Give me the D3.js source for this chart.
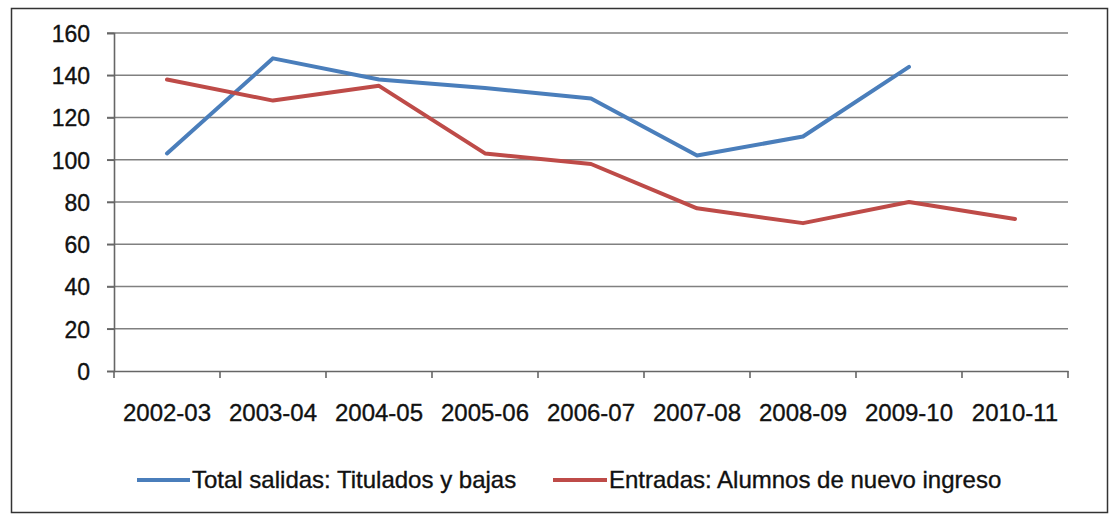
<!DOCTYPE html>
<html>
<head>
<meta charset="utf-8">
<script src="https://cdn.jsdelivr.net/npm/d3@7"></script>
<style>
  html, body { margin: 0; padding: 0; background: #fff; }
  svg text { font-family: "Liberation Sans", Arial, sans-serif; fill: #111; stroke: #111; stroke-width: 0.35px; }
</style>
</head>
<body>
<svg id="chart" width="1112" height="515"></svg>
<script>
const categories = ["2002-03","2003-04","2004-05","2005-06","2006-07","2007-08","2008-09","2009-10","2010-11"];
const salidas  = [103, 148, 138, 134, 129, 102, 111, 144, null];
const entradas = [138, 128, 135, 103, 98, 77, 70, 80, 72];
const yTicks = [0, 20, 40, 60, 80, 100, 120, 140, 160];
const seriesNames = ["Total salidas: Titulados y bajas", "Entradas: Alumnos de nuevo ingreso"];
const seriesColors = ["#4a7ebb", "#be4b48"];

const svg = d3.select("#chart");
const plotLeft = 114, plotRight = 1068, plotTop = 33, plotBottom = 371;

// outer frame
svg.append("rect").attr("x", 11.5).attr("y", 8.5).attr("width", 1096).attr("height", 504)
  .attr("fill", "#fff").attr("stroke", "#333").attr("stroke-width", 1.5);

const x = d3.scaleBand().domain(categories).range([plotLeft, plotRight]).paddingInner(0).paddingOuter(0);
const y = d3.scaleLinear().domain([0, 160]).range([plotBottom, plotTop]);

// gridlines (with outward tick)
svg.append("g").selectAll("line").data(yTicks.filter(d => d > 0)).join("line")
  .attr("x1", plotLeft - 7).attr("x2", plotRight)
  .attr("y1", d => y(d)).attr("y2", d => y(d))
  .attr("stroke", "#808080").attr("stroke-width", 1.6);

// y axis
const yAxis = svg.append("g").attr("transform", `translate(${plotLeft},0)`)
  .call(d3.axisLeft(y).tickValues(yTicks).tickSize(7).tickPadding(17));
yAxis.select(".domain").attr("stroke", "#666").attr("stroke-width", 1.6);
yAxis.selectAll(".tick line").attr("stroke", "#666").attr("stroke-width", 1.6);
yAxis.selectAll("text").attr("font-size", 23).attr("dy", "0.36em");

// x axis
const xAxis = svg.append("g").attr("transform", `translate(0,${plotBottom})`)
  .call(d3.axisBottom(x).tickSize(0).tickPadding(36));
xAxis.select(".domain").attr("stroke", "#666").attr("stroke-width", 1.6);
xAxis.selectAll("text").attr("font-size", 24).attr("dy", "0.6em");
// band-edge ticks
const edges = categories.map(c => x(c)).concat([x(categories[categories.length-1]) + x.bandwidth()]);
xAxis.append("g").selectAll("line").data(edges).join("line")
  .attr("x1", d => d).attr("x2", d => d).attr("y1", 0).attr("y2", 7)
  .attr("stroke", "#666").attr("stroke-width", 1.6);

// lines
const line = d3.line()
  .defined(d => d.v != null)
  .x(d => x(d.c) + x.bandwidth() / 2)
  .y(d => y(d.v));

[salidas, entradas].forEach((vals, i) => {
  const data = categories.map((c, j) => ({c, v: vals[j]}));
  svg.append("path").datum(data).attr("d", line)
    .attr("fill", "none").attr("stroke", seriesColors[i])
    .attr("stroke-width", 4).attr("stroke-linejoin", "round").attr("stroke-linecap", "round");
});

// legend
const legendY = 480;
const legendItems = [{x: 137, tx: 192}, {x: 553, tx: 609}];
legendItems.forEach((it, i) => {
  svg.append("line").attr("x1", it.x).attr("x2", it.tx - 2).attr("y1", legendY).attr("y2", legendY)
    .attr("stroke", seriesColors[i]).attr("stroke-width", 4);
  svg.append("text").attr("x", it.tx).attr("y", legendY).attr("dy", "0.35em")
    .attr("font-size", 24).text(seriesNames[i]);
});
</script>
</body>
</html>
